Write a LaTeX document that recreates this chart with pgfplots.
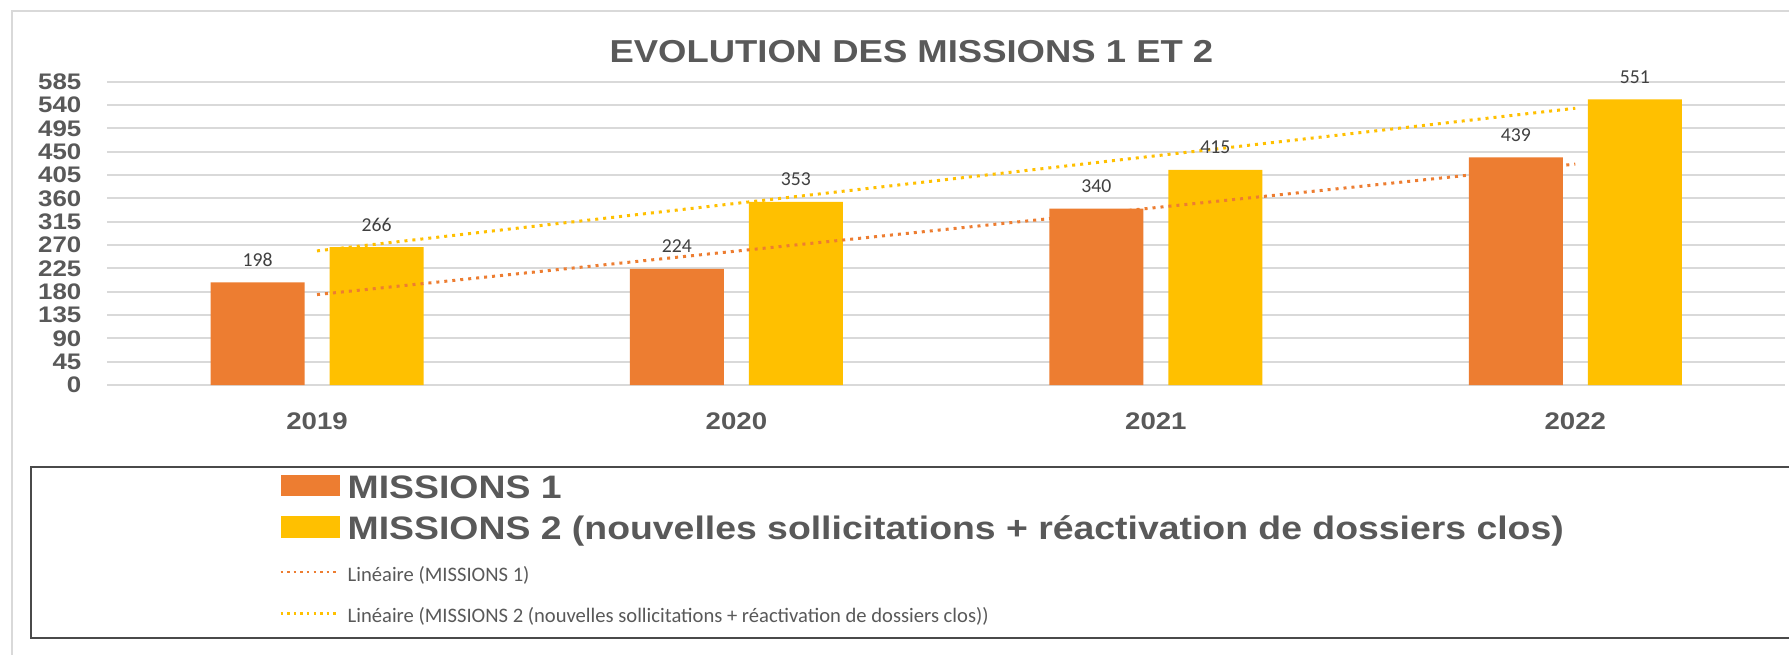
\documentclass[border=0pt]{standalone}
\usepackage{pgfplots}
\pgfplotsset{compat=1.18}
\usepackage{fontspec}
\newfontfamily\arialb{Liberation Sans}[FakeStretch=1.15]
\newfontfamily\calib{Carlito}
\definecolor{morange}{HTML}{ED7D31}
\definecolor{myellow}{HTML}{FFC000}
\definecolor{txt}{HTML}{595959}
\definecolor{lbl}{HTML}{404040}
\definecolor{gridc}{HTML}{D9D9D9}
\definecolor{boxc}{HTML}{4A4A4A}

\begin{document}
\begin{tikzpicture}
\useasboundingbox (0,0) rectangle (894.5pt,-327pt);
\fill[white] (0,0) rectangle (894.5pt,-327pt);
% outer chart frame (cut off at right and bottom)
\draw[gridc, line width=1pt] (5.85pt,-400pt) -- (5.85pt,-5.6pt) -- (1000pt,-5.6pt);
% legend frame
\draw[boxc, line width=1pt] (15.5pt,-233.65pt) rectangle (1000pt,-318.85pt);
\begin{axis}[
  at={(53.65pt,-192.5pt)}, anchor=south west,
  scale only axis, width=838.85pt, height=151.65pt,
  xmin=-0.5, xmax=3.5, ymin=0, ymax=585,
  axis lines=left, axis line style={draw=none},
  major tick length=0pt,
  xtick={0,1,2,3}, xticklabels={2019,2020,2021,2022},
  ytick={0,45,90,135,180,225,270,315,360,405,450,495,540,585},
  ymajorgrids, grid style={gridc, line width=0.9pt},
  xticklabel style={font=\arialb\bfseries\fontsize{12}{14}\selectfont, text=txt, anchor=base, inner sep=0pt, yshift=-22.15pt},
  yticklabel style={font=\arialb\bfseries\fontsize{11.25}{13}\selectfont, text=txt, anchor=east, inner sep=0pt, xshift=-12.8pt, /pgf/number format/assume math mode=true},
  title={EVOLUTION DES MISSIONS 1 ET 2},
  title style={font=\arialb\bfseries\fontsize{15.85}{18}\selectfont, text=txt, at={(0.4793,1)}, anchor=base, inner sep=0pt, yshift=3.8pt},
  legend cell align=left,
  legend style={at={(0.10252,-0.29443)}, anchor=north west, draw=none, fill=none, inner sep=0pt, outer sep=0pt, row sep=0pt, column sep=3.5pt, text=txt, nodes={inner sep=0pt, outer sep=0pt, text height=12pt, text depth=8.75pt}},
  every node near coord/.append style={font=\calib\fontsize{9.85}{12}\selectfont, text=lbl, anchor=base, inner sep=0pt, yshift=8pt, text height=, text depth=, /pgf/number format/assume math mode=true},
]
\addplot[ybar, bar width=47pt, bar shift=-29.75pt, fill=morange, draw=none, nodes near coords,
  every node near coord/.append style={xshift=-29.75pt},
  legend image code/.code={\fill[morange] (0pt,-0.6pt) rectangle (29.5pt,10.2pt);}]
  coordinates {(0,198) (1,224) (2,340) (3,439)};
\addlegendentry{\arialb\bfseries\fontsize{16.25}{18}\selectfont MISSIONS 1}
\addplot[ybar, bar width=47pt, bar shift=29.75pt, fill=myellow, draw=none, nodes near coords,
  every node near coord/.append style={xshift=29.75pt},
  legend image code/.code={\fill[myellow] (0pt,-0.6pt) rectangle (29.5pt,10.2pt);}]
  coordinates {(0,266) (1,353) (2,415) (3,551)};
\addlegendentry{\arialb\bfseries\fontsize{16.25}{18}\selectfont MISSIONS 2 (nouvelles sollicitations + réactivation de dossiers clos)}
\addplot[morange, line width=1.5pt, dash pattern=on 1.5pt off 2.5pt,
  legend image code/.code={\draw[morange, line width=1.2pt, dash pattern=on 1.2pt off 2.1pt] (0pt,3pt) -- (29.5pt,3pt);}]
  coordinates {(0,174.4) (3,426.1)};
\addlegendentry{\calib\fontsize{10.3}{12}\selectfont Linéaire (MISSIONS 1)}
\addplot[myellow, line width=1.5pt, dash pattern=on 1.5pt off 2.5pt,
  legend image code/.code={\draw[myellow, line width=1.2pt, dash pattern=on 1.2pt off 2.1pt] (0pt,3pt) -- (29.5pt,3pt);}]
  coordinates {(0,258.7) (3,533.8)};
\addlegendentry{\calib\fontsize{10.3}{12}\selectfont Linéaire (MISSIONS 2 (nouvelles sollicitations + réactivation de dossiers clos))}
\end{axis}
\end{tikzpicture}
\end{document}
